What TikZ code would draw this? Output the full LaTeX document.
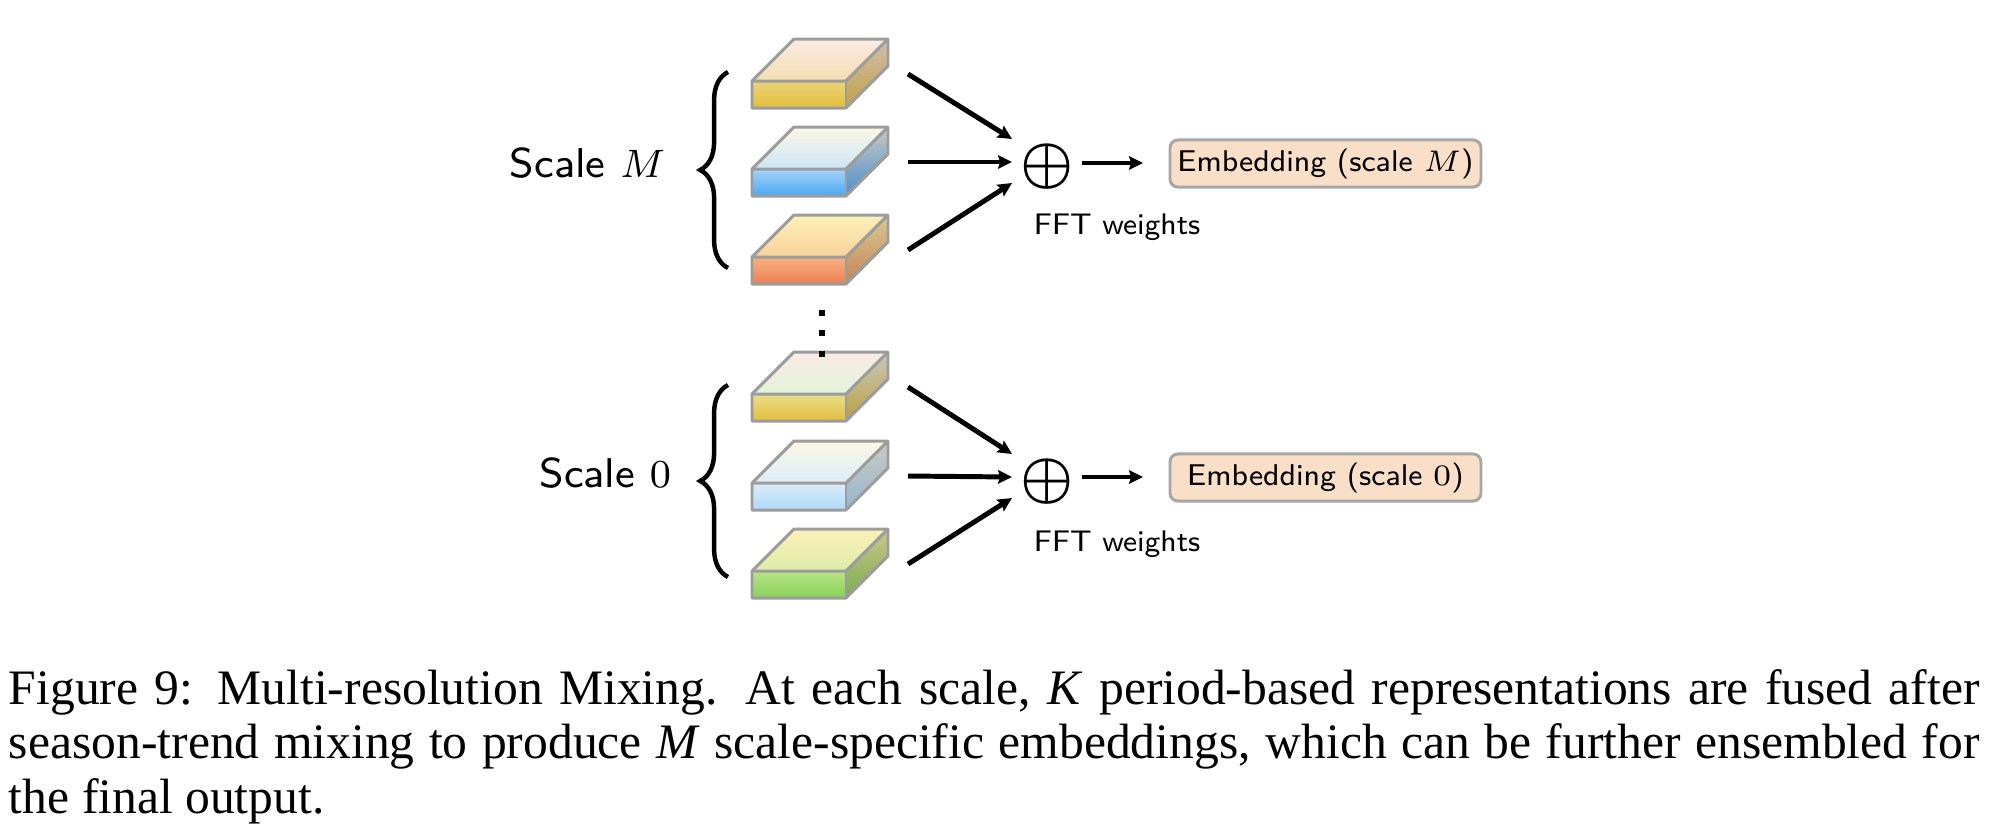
\documentclass[tikz,border=0pt]{standalone}
\usepackage{fontspec}
\usepackage{bm}
\newfontfamily\capfont{Liberation Serif}
\usetikzlibrary{arrows.meta,decorations.pathreplacing}
\definecolor{slabedge}{HTML}{9C9C9C}
\definecolor{embfill}{HTML}{F9DFC8}
\definecolor{embedge}{HTML}{A6A6A6}
% Scale M slabs
\definecolor{maA}{HTML}{FBEAE4}\definecolor{maB}{HTML}{F5DDB0}\definecolor{maC}{HTML}{EBD37A}\definecolor{maD}{HTML}{E3BE3C}\definecolor{maE}{HTML}{D1BEAE}\definecolor{maF}{HTML}{C1A146}
\definecolor{mbA}{HTML}{FBF7E6}\definecolor{mbB}{HTML}{CDE5F6}\definecolor{mbC}{HTML}{A4D3F8}\definecolor{mbD}{HTML}{4AA8F3}\definecolor{mbE}{HTML}{C8C8C2}\definecolor{mbF}{HTML}{4B8FCB}
\definecolor{mcA}{HTML}{FCF0B9}\definecolor{mcB}{HTML}{F7D29A}\definecolor{mcC}{HTML}{F6B080}\definecolor{mcD}{HTML}{EE8054}\definecolor{mcE}{HTML}{D9C98E}\definecolor{mcF}{HTML}{C4845A}
% Scale 0 slabs
\definecolor{zaA}{HTML}{FAEAE4}\definecolor{zaB}{HTML}{E2F3DA}\definecolor{zaC}{HTML}{E9DD8C}\definecolor{zaD}{HTML}{E2BE3C}\definecolor{zaE}{HTML}{C8C8BE}\definecolor{zaF}{HTML}{BCA03F}
\definecolor{zbA}{HTML}{FCF7E4}\definecolor{zbB}{HTML}{DDEDF9}\definecolor{zbC}{HTML}{DCEBF8}\definecolor{zbD}{HTML}{ADDAF8}\definecolor{zbE}{HTML}{CACAC2}\definecolor{zbF}{HTML}{93B6CE}
\definecolor{zcA}{HTML}{FAF0B9}\definecolor{zcB}{HTML}{DDECA7}\definecolor{zcC}{HTML}{B8E285}\definecolor{zcD}{HTML}{87D157}\definecolor{zcE}{HTML}{CAC68C}\definecolor{zcF}{HTML}{7AAC4E}
% slab: #1 x-left, #2 y front top, #3 name, #4 colour prefix
\newcommand\myslab[4]{%
  \coordinate (#3) at (#1,#2);
  \shade[top color=#4A, bottom color=#4B] (#1,#2) -- ({#1+42},{#2-42}) -- ({#1+136},{#2-42}) -- ({#1+94},#2) -- cycle;
  \shade[top color=#4C, bottom color=#4D] (#1,#2) rectangle ({#1+94},{#2+27});
  \shade[top color=#4E, bottom color=#4F] ({#1+94},#2) -- ({#1+136},{#2-42}) -- ({#1+136},{#2-15}) -- ({#1+94},{#2+27}) -- cycle;
  \draw[slabline] (#1,#2) -- ({#1+42},{#2-42}) -- ({#1+136},{#2-42}) -- ({#1+136},{#2-15}) -- ({#1+94},{#2+27}) -- (#1,{#2+27}) -- cycle;
  \draw[slabline] (#1,#2) -- ({#1+94},#2) -- ({#1+136},{#2-42});
  \draw[slabline] ({#1+94},#2) -- ({#1+94},{#2+27});
  \coordinate (#3out) at ({#1+156},{#2-7});
}
\begin{document}
\begin{tikzpicture}[x=0.2016pt,y=-0.2016pt,
  slabline/.style={draw=slabedge,line width=0.6pt,line join=round},
  arr/.style={line width=1pt,-{Stealth[length=2.8pt,width=2.7pt,inset=0.4pt]}},
  bracestyle/.style={line width=0.9pt,decorate,decoration={brace,amplitude=5.6pt}},
  scalelbl/.style={font=\fontsize{8.4}{10}\sffamily\selectfont,anchor=base east,inner sep=0},
  fftlbl/.style={font=\fontsize{6}{7}\sffamily\selectfont,anchor=base west,inner sep=0},
  sumnode/.style={font=\fontsize{12}{14}\selectfont,inner sep=0},
  emb/.style={draw=embedge,fill=embfill,line width=0.6pt,rounded corners=1.6pt,minimum width=62.7pt,minimum height=9.5pt,inner sep=0,font=\fontsize{6.05}{7.5}\sffamily\selectfont}
]
\useasboundingbox (0,0) rectangle (1992,836);

% ---------- Scale M ----------
\myslab{752}{81}{M1}{ma}
\myslab{752}{169}{M2}{mb}
\myslab{752}{257}{M3}{mc}
\draw[bracestyle] (728,268) -- (728,72);
\node[scalelbl] (lblM) at (666,177) {Scale $M$};
\node[sumnode] (sumM) at (1047,167) {$\bm{\oplus}$};
\coordinate (inM1) at (1012,139);
\coordinate (inM2) at (1012,162);
\coordinate (inM3) at (1012,183);
\draw[arr] (M1out) -- (inM1);
\draw[arr] (M2out) -- (inM2);
\draw[arr] (M3out) -- (inM3);
\node[fftlbl] (fftM) at (1033,234) {FFT weights};
\node[emb] (embM) at (1325.5,163.5) {Embedding (scale $M$)};
\coordinate (outM) at (1082,163);
\draw[arr] (outM) -- (1143,163);

% ---------- Scale 0 ----------
\myslab{752}{394}{Z1}{za}
\myslab{752}{483}{Z2}{zb}
\myslab{752}{571}{Z3}{zc}
\draw[bracestyle] (728,577) -- (728,385);
\node[scalelbl] (lbl0) at (672,487) {Scale $0$};
\node[sumnode] (sum0) at (1047,482) {$\bm{\oplus}$};
\coordinate (in01) at (1012,454);
\coordinate (in02) at (1012,477);
\coordinate (in03) at (1012,498);
\draw[arr] (Z1out) -- (in01);
\draw[arr] (Z2out) -- (in02);
\draw[arr] (Z3out) -- (in03);
\node[fftlbl] (fft0) at (1033,551) {FFT weights};
\node[emb] (emb0) at (1325.5,477.5) {Embedding (scale $0$)};
\coordinate (out0) at (1082,477);
\draw[arr] (out0) -- (1143,477);

% ---------- vertical dots ----------
\foreach \yy in {313,333,354} \fill (819,{\yy-3}) rectangle (825,{\yy+3});

% ---------- caption ----------
\node[anchor=base west,inner sep=0,font=\capfont\fontsize{10}{11}\selectfont] (cap) at (8,704)
 {\parbox[t]{397.3pt}{Figure 9: Multi-resolution Mixing. At each scale, \textit{K} period-based representations are fused after\linebreak
 season-trend mixing to produce \textit{M} scale-specific embeddings, which can be further ensembled for\linebreak
 the final output.}};
\end{tikzpicture}
\end{document}
